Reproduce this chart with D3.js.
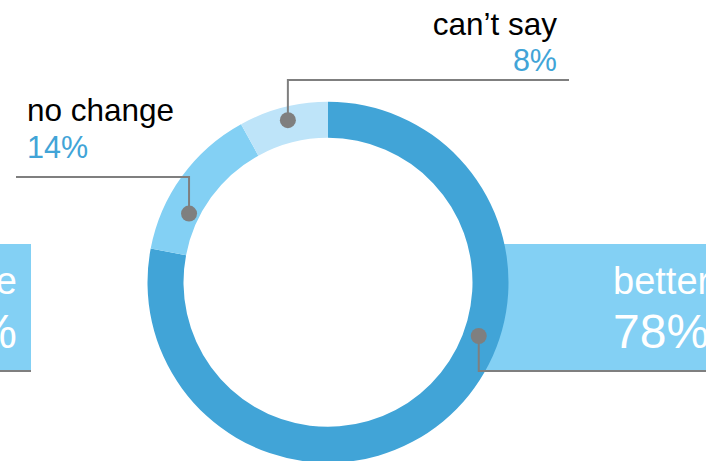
<!DOCTYPE html>
<html>
<head>
<meta charset="utf-8">
<script src="https://cdn.jsdelivr.net/npm/d3@7"></script>
<style>
  html, body { margin: 0; padding: 0; background: #fff; overflow: hidden; }
  svg { display: block; font-family: "Liberation Sans", Arial, Helvetica, sans-serif; }
</style>
</head>
<body>
<svg id="chart" width="706" height="461"></svg>
<script>
// ---- data ----
const categories = ["better", "no change", "can\u2019t say"];
const values = [78, 14, 8];
const valueLabels = ["78%", "14%", "8%"];
const sliceColors = ["#41A4D7", "#83D0F4", "#BEE4F9"];
// leader-dot angle (degrees, clockwise from top) and radius for each category
const leaderAngles = [109.6, 296.3, 346.1];
const leaderRadii = [160, 155, 167];
// partially visible left box
const sideCategory = "worse";
const sideValueLabel = "0%";

// ---- layout ----
const W = 706, H = 461;
const cx = 328, cy = 282.3;
const rOuter = 180.5, rInner = 144.5;
const gray = "#7F7F7F";
const darkBlue = sliceColors[0];
const boxColor = "#83D0F4";

const svg = d3.select("#chart");

// boxes (behind donut)
svg.append("rect").attr("x", 476).attr("y", 244).attr("width", 260).attr("height", 127)
  .attr("fill", boxColor);
svg.append("rect").attr("x", -200).attr("y", 244).attr("width", 231).attr("height", 127)
  .attr("fill", boxColor);

// donut
const pie = d3.pie().sort(null).value(d => d);
const arc = d3.arc().innerRadius(rInner).outerRadius(rOuter);
const g = svg.append("g").attr("transform", `translate(${cx},${cy})`);
g.selectAll("path").data(pie(values)).join("path")
  .attr("d", arc)
  .attr("fill", (d, i) => sliceColors[i]);

// dots
const dotPos = i => {
  const a = leaderAngles[i] * Math.PI / 180;
  const r = leaderRadii[i];
  return [cx + r * Math.sin(a), cy - r * Math.cos(a)];
};

// leader lines
const lines = svg.append("g").attr("fill", "none").attr("stroke", gray).attr("stroke-width", 2);
{
  const [x, y] = dotPos(0);
  lines.append("path").attr("d", `M${x},${y}V371H${W + 5}`);
}
{
  const [x, y] = dotPos(1);
  lines.append("path").attr("d", `M${x},${y}V177H16`);
}
{
  const [x, y] = dotPos(2);
  lines.append("path").attr("d", `M${x},${y}V80H569`);
}
lines.append("path").attr("d", `M-5,371H31`);

svg.append("g").selectAll("circle").data(values).join("circle")
  .attr("cx", (d, i) => dotPos(i)[0])
  .attr("cy", (d, i) => dotPos(i)[1])
  .attr("r", 8)
  .attr("fill", gray);

// text labels
const t = svg.append("g");
t.append("text").attr("x", 27).attr("y", 120.5).attr("font-size", 31.5).attr("fill", "#000")
  .text(categories[1]);
t.append("text").attr("x", 27).attr("y", 158).attr("font-size", 30.5).attr("fill", darkBlue)
  .text(valueLabels[1]);
t.append("text").attr("x", 557).attr("y", 35).attr("font-size", 31.5).attr("fill", "#000")
  .attr("text-anchor", "end").text(categories[2]);
t.append("text").attr("x", 557).attr("y", 70.5).attr("font-size", 30.5).attr("fill", darkBlue)
  .attr("text-anchor", "end").text(valueLabels[2]);
t.append("text").attr("x", 613).attr("y", 294).attr("font-size", 38).attr("fill", "#fff")
  .text(categories[0]);
t.append("text").attr("x", 613).attr("y", 348).attr("font-size", 48).attr("fill", "#fff")
  .text(valueLabels[0]);
t.append("text").attr("x", 17).attr("y", 294).attr("font-size", 38).attr("fill", "#fff")
  .attr("text-anchor", "end").text(sideCategory);
t.append("text").attr("x", 17).attr("y", 348).attr("font-size", 48).attr("fill", "#fff")
  .attr("text-anchor", "end").text(sideValueLabel);
</script>
</body>
</html>
